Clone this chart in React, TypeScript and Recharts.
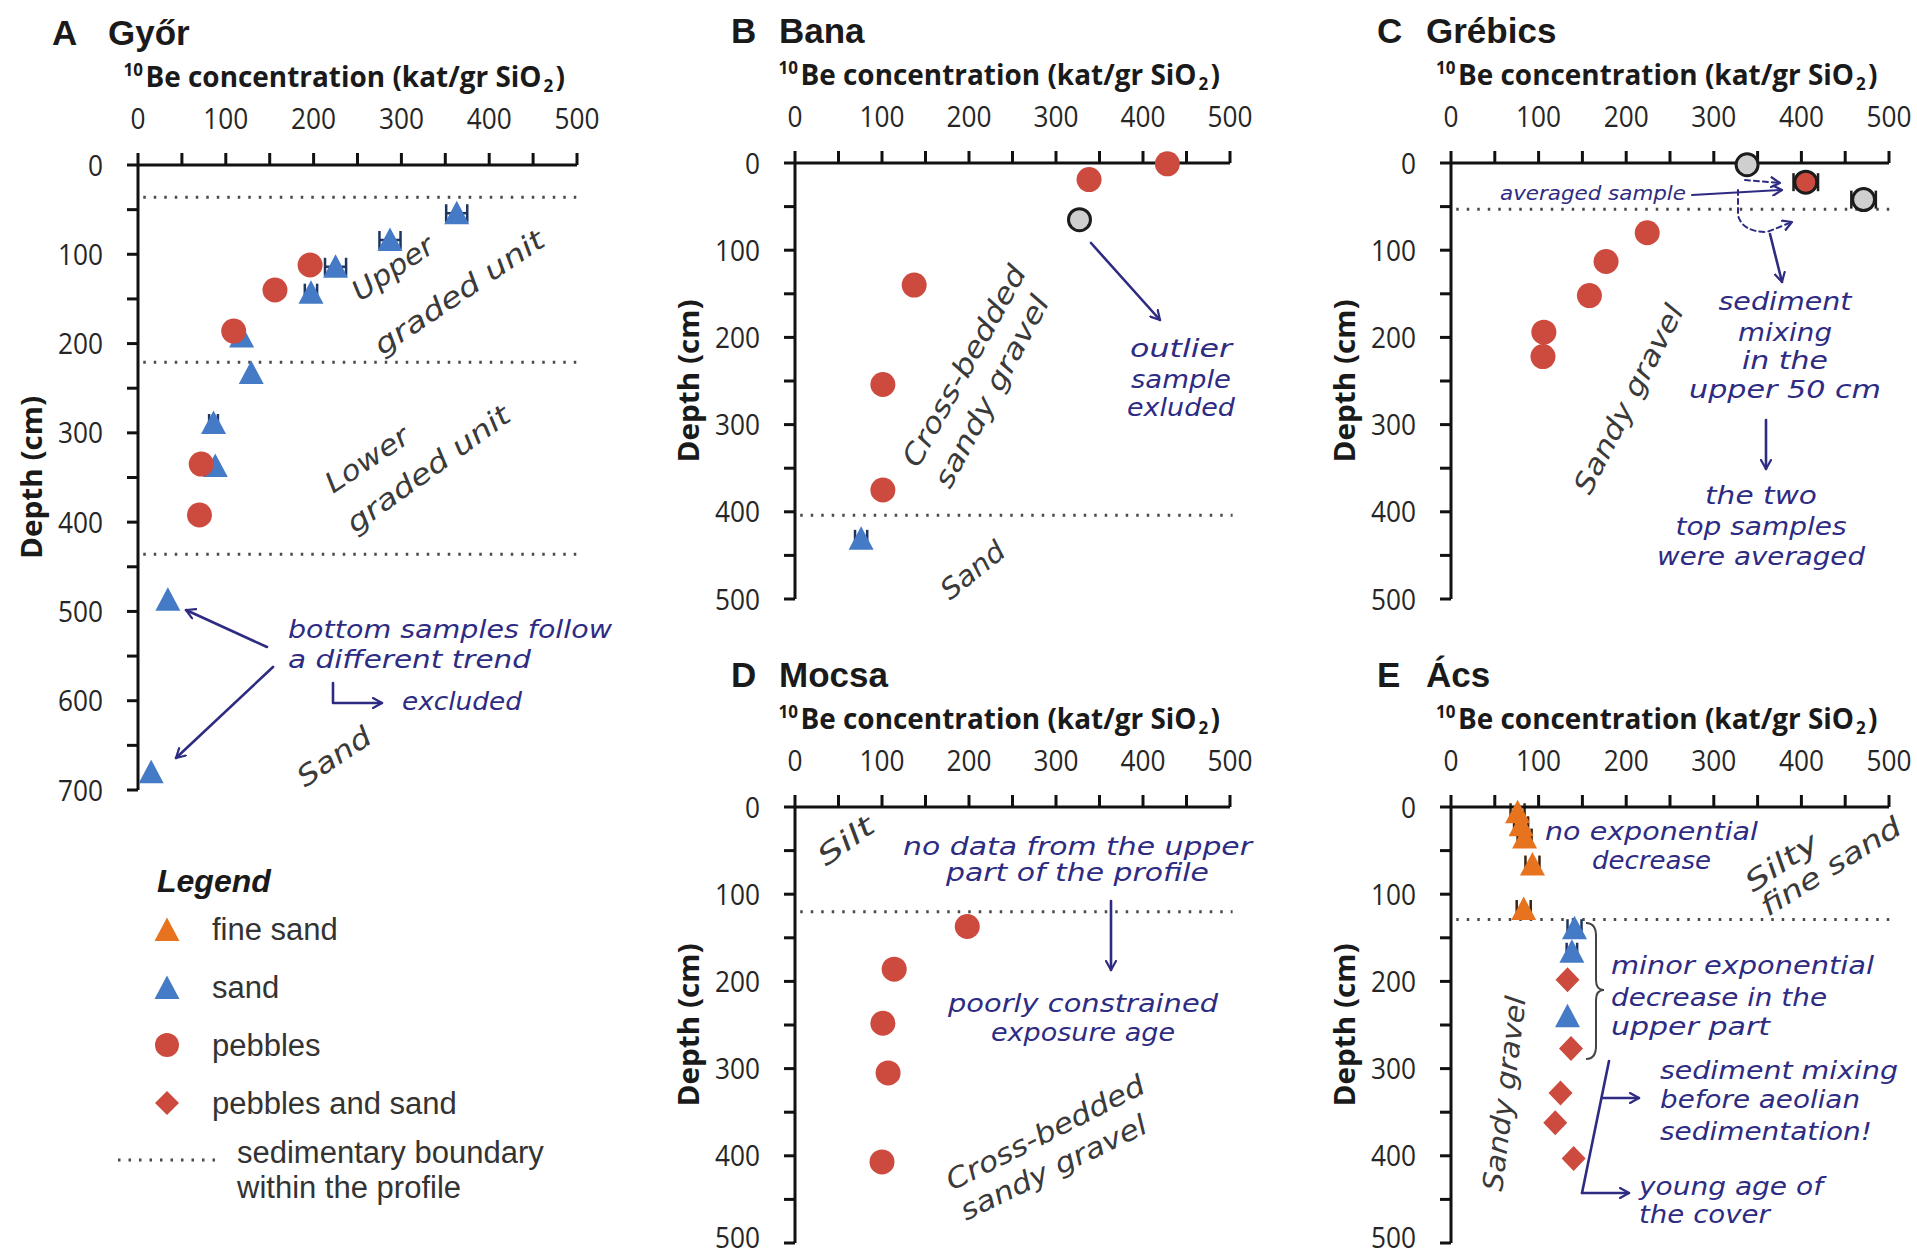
import React from 'react';
import { ScatterChart, Scatter, XAxis, YAxis, ReferenceLine, ErrorBar } from 'recharts';

// ---------------- data ----------------
const concentrationTicks = [0, 50, 100, 150, 200, 250, 300, 350, 400, 450, 500];
const depthTicksGyor = [0, 50, 100, 150, 200, 250, 300, 350, 400, 450, 500, 550, 600, 650, 700];
const depthTicks = [0, 50, 100, 150, 200, 250, 300, 350, 400, 450, 500];

// A  Győr
const gyorSand = [
  { x: 363, y: 54, ex: 12 },
  { x: 287, y: 84, ex: 12 },
  { x: 225, y: 114, ex: 12 },
  { x: 197, y: 143, ex: 7 },
  { x: 118, y: 192 },
  { x: 129, y: 233 },
  { x: 86, y: 289, ex: 5 },
  { x: 88, y: 337 },
  { x: 34, y: 487 },
  { x: 15, y: 680 },
];
const gyorPebbles = [
  { x: 196, y: 112 },
  { x: 156, y: 140 },
  { x: 109, y: 186 },
  { x: 72, y: 335 },
  { x: 70, y: 392 },
];
const gyorBoundaries = [36, 221, 436];

// B  Bana
const banaPebbles = [
  { x: 428, y: 1 },
  { x: 338, y: 19 },
  { x: 137, y: 140 },
  { x: 101, y: 254 },
  { x: 101, y: 375 },
];
const banaOutlier = [{ x: 327, y: 65 }];
const banaSand = [{ x: 76, y: 431, ex: 7 }];
const banaBoundaries = [404];

// C  Grébics
const grebicsPebbles = [
  { x: 224, y: 80 },
  { x: 177, y: 113 },
  { x: 158, y: 152 },
  { x: 106, y: 194 },
  { x: 105, y: 222 },
];
const grebicsAveraged = [{ x: 405, y: 22, ex: 14 }];
const grebicsTopSamples = [
  { x: 338, y: 2 },
  { x: 471, y: 42, ex: 14 },
];
const grebicsBoundaries = [53];

// D  Mocsa
const mocsaPebbles = [
  { x: 198, y: 137 },
  { x: 114, y: 186 },
  { x: 101, y: 248 },
  { x: 107, y: 305 },
  { x: 100, y: 407 },
];
const mocsaBoundaries = [120];

// E  Ács
const acsFineSand = [
  { x: 76, y: 6, ex: 8 },
  { x: 80, y: 21, ex: 8 },
  { x: 84, y: 35, ex: 8 },
  { x: 93, y: 66, ex: 8 },
  { x: 83, y: 117, ex: 8 },
];
const acsSand = [
  { x: 141, y: 139, ex: 8 },
  { x: 138, y: 166, ex: 6 },
  { x: 133, y: 240 },
];
const acsPebblesSand = [
  { x: 133, y: 198 },
  { x: 137, y: 277 },
  { x: 125, y: 328 },
  { x: 119, y: 362 },
  { x: 140, y: 403 },
];
const acsBoundaries = [129];

// ---------------- style ----------------
const RED = '#CC4A3E';
const BLUE = '#447AC6';
const ORANGE = '#E8731E';
const GRAY = '#CFCFCF';
const NAVY = '#2E2B82';
const PENCIL = '#3a3a3a';
const HAND = '"DejaVu Sans", sans-serif';
const AXISF = '"Open Sans", sans-serif';
const ARIAL = '"Liberation Sans", Arial, sans-serif';

const PAGE_H = 1258;
const PAD_L = 130;
const PAD_T = 145;
const PAD_R = 40;
const PAD_B = 24;

const triangle = (fill: string) => (p: any) => (
  <path d={`M${p.cx},${p.cy - 12.5} L${p.cx + 12.5},${p.cy + 11} L${p.cx - 12.5},${p.cy + 11} Z`} fill={fill} />
);
const dot = (fill: string) => (p: any) => <circle cx={p.cx} cy={p.cy} r={12.5} fill={fill} />;
const ringDot = (fill: string) => (p: any) => (
  <circle cx={p.cx} cy={p.cy} r={11} fill={fill} stroke="#1c1c1c" strokeWidth={3} />
);
const diamond = (fill: string) => (p: any) => (
  <path d={`M${p.cx},${p.cy - 12.5} L${p.cx + 12},${p.cy} L${p.cx},${p.cy + 12.5} L${p.cx - 12},${p.cy} Z`} fill={fill} />
);

const XTick = (props: any) => {
  const { x, y, payload } = props;
  if (payload.value % 100 !== 0) return <g />;
  const s = String(payload.value);
  return (
    <text x={x} y={y} textAnchor="middle" fontSize={30} fontFamily={AXISF} fill="#262626"
      textLength={s.length * 15} lengthAdjust="spacingAndGlyphs">
      {s}
    </text>
  );
};
const makeYTick = (maxBaseline: number) => (props: any) => {
  const { x, y, payload } = props;
  if (payload.value % 100 !== 0) return <g />;
  const s = String(payload.value);
  const base = Math.min(y + 10.5, maxBaseline);
  return (
    <text x={x} y={base} textAnchor="end" fontSize={30} fontFamily={AXISF} fill="#262626"
      textLength={s.length * 15} lengthAdjust="spacingAndGlyphs">
      {s}
    </text>
  );
};

type Layout = { left: number; top: number; w: number; h: number };

const layoutA: Layout = { left: 138, top: 165, w: 439, h: 625 };
const layoutB: Layout = { left: 795, top: 163, w: 435, h: 436 };
const layoutC: Layout = { left: 1451, top: 163, w: 438, h: 436 };
const layoutD: Layout = { left: 795, top: 807, w: 435, h: 436 };
const layoutE: Layout = { left: 1451, top: 807, w: 438, h: 436 };

function Panel(props: { layout: Layout; yMax: number; yTicks: number[]; boundaries: number[]; children: any }) {
  const { layout, yMax, yTicks, boundaries, children } = props;
  const chartTop = layout.top - PAD_T;
  const YTick = makeYTick(PAGE_H - 10 - chartTop);
  return (
    <div style={{ position: 'absolute', left: layout.left - PAD_L, top: chartTop }}>
      <ScatterChart
        width={layout.w + PAD_L + PAD_R}
        height={layout.h + PAD_T + PAD_B}
        margin={{ top: PAD_T - 60, left: PAD_L - 60, right: PAD_R, bottom: PAD_B }}
      >
        <XAxis
          type="number"
          dataKey="x"
          orientation="top"
          domain={[0, 500]}
          ticks={concentrationTicks}
          interval={0}
          height={60}
          tickSize={12}
          tickMargin={24}
          tick={<XTick />}
          axisLine={{ stroke: '#111', strokeWidth: 3 }}
          tickLine={{ stroke: '#111', strokeWidth: 3 }}
        />
        <YAxis
          type="number"
          dataKey="y"
          reversed
          domain={[0, yMax]}
          ticks={yTicks}
          interval={0}
          width={60}
          tickSize={11}
          tickMargin={24}
          tick={<YTick />}
          axisLine={{ stroke: '#111', strokeWidth: 3 }}
          tickLine={{ stroke: '#111', strokeWidth: 3 }}
        />
        {boundaries.map((b) => (
          <ReferenceLine
            key={b}
            segment={[{ x: 6, y: b }, { x: 503, y: b }]}
            stroke="#4a4a4a"
            strokeWidth={3}
            strokeDasharray="2.5 8"
            ifOverflow="visible"
          />
        ))}
        {children}
      </ScatterChart>
    </div>
  );
}

const errBar = (color: string) => (
  <ErrorBar dataKey="ex" direction="x" width={9} stroke={color} strokeWidth={2.5} />
);

// ---------------- overlay helpers ----------------
function Note(p: {
  x: number; y: number; t: string; size?: number; color?: string; rot?: number;
  anchor?: 'start' | 'middle' | 'end'; len?: number; italic?: boolean; family?: string; weight?: string;
}) {
  const { x, y, t, size = 25, color = NAVY, rot = 0, anchor = 'start', len, italic = true, family = HAND, weight = 'normal' } = p;
  return (
    <text
      x={x}
      y={y}
      fontSize={size}
      fill={color}
      fontFamily={family}
      fontStyle={italic ? 'italic' : 'normal'}
      fontWeight={weight}
      textAnchor={anchor}
      transform={rot ? `rotate(${rot} ${x} ${y})` : undefined}
      textLength={len}
      lengthAdjust={len ? 'spacingAndGlyphs' : undefined}
    >
      {t}
    </text>
  );
}

function Arrow(p: { d: string; dashed?: boolean; w?: number; head?: boolean }) {
  return (
    <path
      d={p.d}
      fill="none"
      stroke={NAVY}
      strokeWidth={p.w ?? 2.6}
      strokeDasharray={p.dashed ? '5 4' : undefined}
      markerEnd={p.head === false ? undefined : 'url(#arrowHead)'}
      strokeLinecap="round"
      strokeLinejoin="round"
    />
  );
}

function PanelTitle(p: { layout: Layout; letter: string; name: string; off: number; gap: number }) {
  const { layout, letter, name, off, gap } = p;
  const lx = layout.left - off;
  const ty = layout.top - 120;
  return (
    <g>
      <text x={lx} y={ty} fontSize={35} fontWeight="bold" fontFamily={ARIAL} fill="#1a1a1a">{letter}</text>
      <text x={lx + gap} y={ty} fontSize={35} fontWeight="bold" fontFamily={ARIAL} fill="#1a1a1a">{name}</text>
    </g>
  );
}

function AxisTitles(p: { layout: Layout }) {
  const { layout } = p;
  const sx = layout.left + layout.w / 2 - 13 - 221;
  const ty = layout.top - 78;
  const dx = layout.left - 107;
  const dy = layout.top + layout.h / 2;
  return (
    <g fontFamily={AXISF} fontWeight="bold" fill="#1a1a1a">
      <text x={sx} y={ty - 11} fontSize={17}>10</text>
      <text x={sx + 22} y={ty} fontSize={28} textLength={396} lengthAdjust="spacingAndGlyphs">
        Be concentration (kat/gr SiO
      </text>
      <text x={sx + 420} y={ty + 5} fontSize={17}>2</text>
      <text x={sx + 432} y={ty} fontSize={28}>)</text>
      <text
        x={dx}
        y={dy}
        fontSize={28}
        textAnchor="middle"
        dominantBaseline="central"
        transform={`rotate(-90 ${dx} ${dy})`}
        textLength={163}
        lengthAdjust="spacingAndGlyphs"
      >
        Depth (cm)
      </text>
    </g>
  );
}

export default function App() {
  return (
    <div style={{ position: 'absolute', left: 0, top: 0, width: 1917, height: PAGE_H, background: '#fff', overflow: 'hidden' }}>
      <Panel layout={layoutA} yMax={700} yTicks={depthTicksGyor} boundaries={gyorBoundaries}>
        <Scatter name="sand" data={gyorSand} shape={triangle(BLUE)} isAnimationActive={false}>
          {errBar('#1e3560')}
        </Scatter>
        <Scatter name="pebbles" data={gyorPebbles} shape={dot(RED)} isAnimationActive={false} />
      </Panel>

      <Panel layout={layoutB} yMax={500} yTicks={depthTicks} boundaries={banaBoundaries}>
        <Scatter name="sand" data={banaSand} shape={triangle(BLUE)} isAnimationActive={false}>
          {errBar('#1e3560')}
        </Scatter>
        <Scatter name="pebbles" data={banaPebbles} shape={dot(RED)} isAnimationActive={false} />
        <Scatter name="outlier" data={banaOutlier} shape={ringDot(GRAY)} isAnimationActive={false} />
      </Panel>

      <Panel layout={layoutC} yMax={500} yTicks={depthTicks} boundaries={grebicsBoundaries}>
        <Scatter name="pebbles" data={grebicsPebbles} shape={dot(RED)} isAnimationActive={false} />
        <Scatter name="top samples" data={grebicsTopSamples} shape={ringDot(GRAY)} isAnimationActive={false}>
          {errBar('#1c1c1c')}
        </Scatter>
        <Scatter name="averaged" data={grebicsAveraged} shape={ringDot(RED)} isAnimationActive={false}>
          {errBar('#1c1c1c')}
        </Scatter>
      </Panel>

      <Panel layout={layoutD} yMax={500} yTicks={depthTicks} boundaries={mocsaBoundaries}>
        <Scatter name="pebbles" data={mocsaPebbles} shape={dot(RED)} isAnimationActive={false} />
      </Panel>

      <Panel layout={layoutE} yMax={500} yTicks={depthTicks} boundaries={acsBoundaries}>
        <Scatter name="fine sand" data={acsFineSand} shape={triangle(ORANGE)} isAnimationActive={false}>
          {errBar('#3a2410')}
        </Scatter>
        <Scatter name="sand" data={acsSand} shape={triangle(BLUE)} isAnimationActive={false}>
          {errBar('#1e3560')}
        </Scatter>
        <Scatter name="pebbles and sand" data={acsPebblesSand} shape={diamond(RED)} isAnimationActive={false} />
      </Panel>

      <svg width={1917} height={PAGE_H} style={{ position: 'absolute', left: 0, top: 0, pointerEvents: 'none' }}>
        <defs>
          <marker id="arrowHead" viewBox="0 0 12 12" refX="10" refY="6" markerWidth="12" markerHeight="12" orient="auto" markerUnits="userSpaceOnUse">
            <path d="M1,1 L10,6 L1,11" fill="none" stroke={NAVY} strokeWidth={2.2} strokeLinecap="round" strokeLinejoin="round" />
          </marker>
        </defs>

        {/* titles */}
        <PanelTitle layout={layoutA} letter="A" name="Győr" off={86} gap={56} />
        <PanelTitle layout={layoutB} letter="B" name="Bana" off={64} gap={48} />
        <PanelTitle layout={layoutC} letter="C" name="Grébics" off={74} gap={49} />
        <PanelTitle layout={layoutD} letter="D" name="Mocsa" off={64} gap={48} />
        <PanelTitle layout={layoutE} letter="E" name="Ács" off={74} gap={49} />
        <AxisTitles layout={layoutA} />
        <AxisTitles layout={layoutB} />
        <AxisTitles layout={layoutC} />
        <AxisTitles layout={layoutD} />
        <AxisTitles layout={layoutE} />

        {/* Panel A notes */}
        <Note x={360} y={302} t="Upper" rot={-34} size={28} color={PENCIL} len={92} />
        <Note x={382} y={356} t="graded unit" rot={-34} size={28} color={PENCIL} len={199} />
        <Note x={333} y={494} t="Lower" rot={-34} size={28} color={PENCIL} len={95} />
        <Note x={355} y={534} t="graded unit" rot={-36} size={28} color={PENCIL} len={195} />
        <Note x={305} y={788} t="Sand" rot={-34} size={28} color={PENCIL} len={83} />
        <Note x={288} y={638} t="bottom samples follow" len={324} />
        <Note x={288} y={668} t="a different trend" len={243} />
        <Note x={402} y={710} t="excluded" len={120} />
        <Arrow d="M267,647 L186,610" />
        <Arrow d="M273,667 L176,758" />
        <Arrow d="M333,683 L333,703 L382,703" />

        {/* Panel B notes */}
        <Note x={918} y={469} t="Cross-bedded" rot={-61} size={28} color={PENCIL} len={225} />
        <Note x={950} y={490} t="sandy gravel" rot={-62} size={28} color={PENCIL} len={213} />
        <Note x={950} y={601} t="Sand" rot={-39} size={28} color={PENCIL} len={74} />
        <Arrow d="M1091,243 L1160,320" />
        <Note x={1181} y={357} t="outlier" anchor="middle" len={102} />
        <Note x={1181} y={388} t="sample" anchor="middle" len={100} />
        <Note x={1181} y={416} t="exluded" anchor="middle" len={108} />

        {/* Panel C notes */}
        <Note x={1500} y={200} t="averaged sample" size={20} len={186} />
        <Arrow d="M1692,195 L1782,190" w={2} />
        <Arrow d="M1745,180 L1780,183" dashed w={2} />
        <Arrow d="M1738,190 L1738,215 Q1742,232 1767,232 L1792,222" dashed w={2} />
        <Arrow d="M1770,234 L1782,282" />
        <Note x={1785} y={310} t="sediment" anchor="middle" len={133} />
        <Note x={1785} y={341} t="mixing" anchor="middle" len={94} />
        <Note x={1785} y={369} t="in the" anchor="middle" len={86} />
        <Note x={1785} y={398} t="upper 50 cm" anchor="middle" len={192} />
        <Arrow d="M1766,420 L1766,469" />
        <Note x={1761} y={504} t="the two" anchor="middle" len={112} />
        <Note x={1761} y={535} t="top samples" anchor="middle" len={171} />
        <Note x={1761} y={565} t="were averaged" anchor="middle" len={208} />
        <Note x={1590} y={496} t="Sandy gravel" rot={-63} size={28} color={PENCIL} len={208} />

        {/* Panel D notes */}
        <Note x={826} y={867} t="Silt" rot={-36} size={28} color={PENCIL} len={63} />
        <Note x={903} y={855} t="no data from the upper" len={349} />
        <Note x={946} y={881} t="part of the profile" len={263} />
        <Arrow d="M1111,901 L1111,970" />
        <Note x={948} y={1012} t="poorly constrained" len={270} />
        <Note x={991} y={1041} t="exposure age" len={184} />
        <Note x={952} y={1191} t="Cross-bedded" rot={-27} size={28} color={PENCIL} len={219} />
        <Note x={966} y={1221} t="sandy gravel" rot={-26} size={28} color={PENCIL} len={204} />

        {/* Panel E notes */}
        <Note x={1545} y={840} t="no exponential" len={213} />
        <Note x={1592} y={869} t="decrease" len={119} />
        <Note x={1753} y={893} t="Silty" rot={-34} size={28} color={PENCIL} len={82} />
        <Note x={1768} y={917} t="fine sand" rot={-32} size={28} color={PENCIL} len={160} />
        <path
          d="M1586,923 Q1596,923 1596,936 L1596,980 Q1596,990 1604,990 Q1596,990 1596,1000 L1596,1046 Q1596,1059 1586,1059"
          fill="none"
          stroke="#444"
          strokeWidth={2}
        />
        <Note x={1611} y={974} t="minor exponential" len={263} />
        <Note x={1611} y={1006} t="decrease in the" len={216} />
        <Note x={1611} y={1035} t="upper part" len={159} />
        <Arrow d="M1609,1061 L1582,1193" head={false} />
        <Arrow d="M1602,1098 L1639,1098" />
        <Arrow d="M1582,1193 L1629,1193" />
        <Note x={1660} y={1079} t="sediment mixing" len={238} />
        <Note x={1660} y={1108} t="before aeolian" len={200} />
        <Note x={1660} y={1140} t="sedimentation!" len={212} />
        <Note x={1639} y={1195} t="young age of" len={184} />
        <Note x={1639} y={1223} t="the cover" len={131} />
        <Note x={1502} y={1192} t="Sandy gravel" rot={-83} size={28} color={PENCIL} len={196} />

        {/* Legend */}
        <g fontFamily={ARIAL} fill="#333">
          <text x={157} y={892} fontSize={32} fontWeight="bold" fontStyle="italic" fill="#1a1a1a">Legend</text>
          <path d="M167,917.5 L179.5,941 L154.5,941 Z" fill={ORANGE} />
          <text x={212} y={940} fontSize={31}>fine sand</text>
          <path d="M167,975.5 L179.5,999 L154.5,999 Z" fill={BLUE} />
          <text x={212} y={998} fontSize={31}>sand</text>
          <circle cx={167} cy={1045} r={12} fill={RED} />
          <text x={212} y={1056} fontSize={31}>pebbles</text>
          <path d="M167,1091 L179,1103 L167,1115 L155,1103 Z" fill={RED} />
          <text x={212} y={1114} fontSize={31}>pebbles and sand</text>
          <line x1={118} y1={1160} x2={220} y2={1160} stroke="#4a4a4a" strokeWidth={3} strokeDasharray="2.5 8" />
          <text x={237} y={1163} fontSize={31}>sedimentary boundary</text>
          <text x={237} y={1198} fontSize={31}>within the profile</text>
        </g>
      </svg>
    </div>
  );
}
